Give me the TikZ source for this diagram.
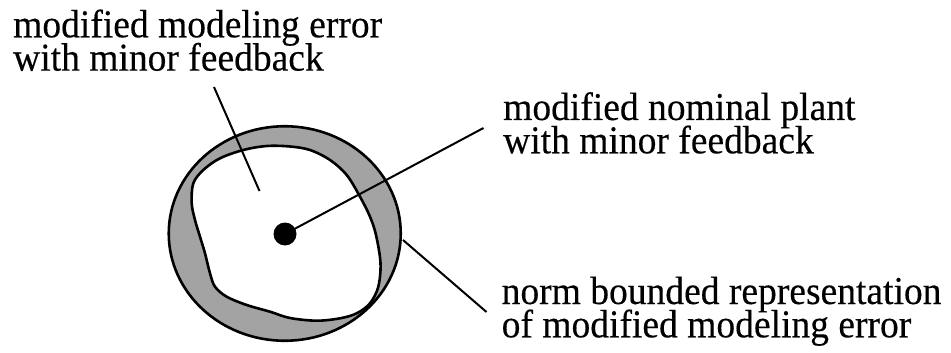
\documentclass[tikz,border=0pt]{standalone}
\usepackage{fontspec}
\setmainfont[FakeStretch=0.95,FakeBold=0.3]{Liberation Serif}
\usetikzlibrary{shapes.geometric}
\newcommand{\twoline}[2]{\vtop{\baselineskip=33.3pt\lineskiplimit=-100pt\lineskip=0pt\hbox{#1}\hbox{#2}}}
\begin{document}
\begin{tikzpicture}[x=1pt,y=-1pt,
  lbl/.style={anchor=base west, inner sep=0pt, font=\fontsize{39.5}{33.3}\selectfont},
  leader/.style={line width=2pt},
  rim/.style={line width=2.6pt},
]
\useasboundingbox (0,0) rectangle (951,353);
% outer norm-bounded disc
\node[ellipse, draw, rim, fill=black!36, minimum width=232pt, minimum height=214.5pt, inner sep=0pt] (outer) at (284.75,233.5) {};
% modified modeling error region
\draw[rim, fill=white] plot[smooth cycle, tension=0.55] coordinates {
 (290,146.5) (310,150) (330,160) (346.7,175) (360,196.7) (370,216.7) (376,235)
 (380.5,263) (378.3,286.7) (370,303.3) (356.7,313.3) (340,318.3) (316.7,320.7)
 (290,318) (270,311.7) (246.7,305) (226.7,296.7) (215,286.7) (210,273.3)
 (205,253.3) (200,236.7) (195,220) (191.7,203.3) (193.3,183.3) (203.3,170)
 (220,158.3) (243.3,150) (266.7,146)};
% nominal plant
\node[circle, fill=black, minimum size=23pt, inner sep=0pt] (dot) at (285,234) {};
% labels
\node[lbl] (tl) at (13,37.3) {\twoline{modified modeling error}{with minor feedback}};
\node[lbl] (tr) at (503,120) {\twoline{modified nominal plant}{with minor feedback}};
\node[lbl] (br) at (501.5,304) {\twoline{norm bounded representation}{of modified modeling error}};
% leaders
\coordinate (l1a) at (214,87);
\coordinate (l1b) at (259.5,191);
\coordinate (l2b) at (483.5,128);
\coordinate (l3a) at (403,240);
\coordinate (l3b) at (486.5,312);
\draw[leader] (l1a) -- (l1b);
\draw[leader] (dot.center) -- (l2b);
\draw[leader] (l3a) -- (l3b);
\end{tikzpicture}
\end{document}
